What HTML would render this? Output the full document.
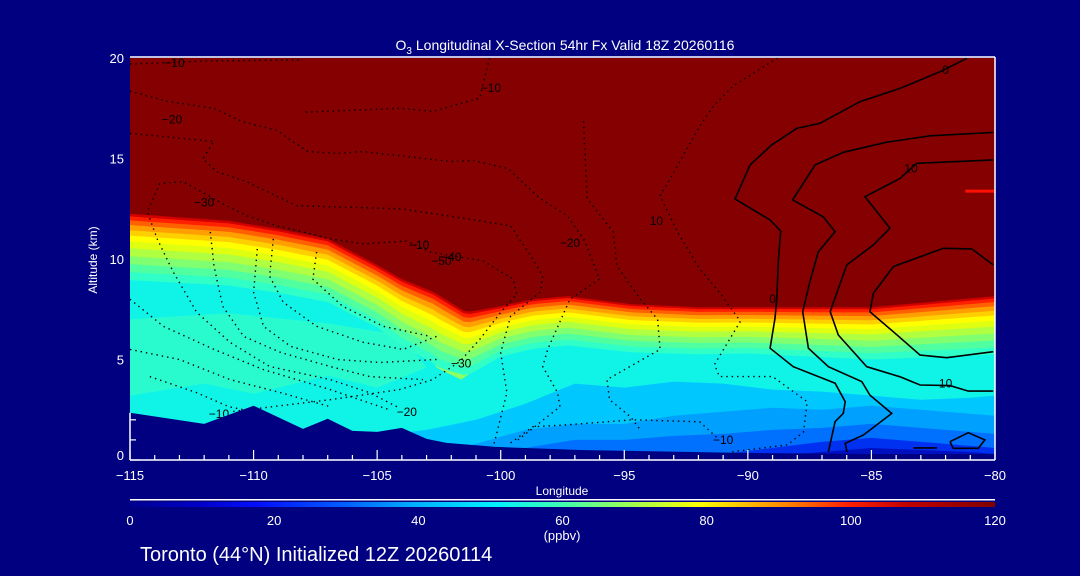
<!DOCTYPE html>
<html><head><meta charset="utf-8">
<style>
html,body{margin:0;padding:0;background:#000080;}
svg{display:block;}
text{font-family:"Liberation Sans",sans-serif;}
</style></head>
<body>
<svg id="chart" width="1080" height="576" viewBox="0 0 1080 576" xmlns="http://www.w3.org/2000/svg">
<defs>
<linearGradient id="cbar" x1="0" x2="1" y1="0" y2="0">
<stop offset="0" stop-color="#000090"/><stop offset="0.08" stop-color="#0000c8"/>
<stop offset="0.15" stop-color="#0010ff"/><stop offset="0.25" stop-color="#0060ff"/>
<stop offset="0.33" stop-color="#00b0ff"/><stop offset="0.42" stop-color="#00f0ff"/>
<stop offset="0.5" stop-color="#40ffb0"/><stop offset="0.58" stop-color="#a0ff50"/>
<stop offset="0.66" stop-color="#ffff00"/><stop offset="0.75" stop-color="#ff9000"/>
<stop offset="0.83" stop-color="#ff2000"/><stop offset="0.9" stop-color="#c00000"/>
<stop offset="1" stop-color="#800000"/>
</linearGradient>
<clipPath id="plotclip"><rect x="130" y="58" width="865" height="402"/></clipPath>
</defs>
<rect width="1080" height="576" fill="#000080"/>
<g id="field" clip-path="url(#plotclip)"></g>
<g id="contours" clip-path="url(#plotclip)"></g>
<g id="terrain"></g>
<g id="axes"></g>
<text x="565" y="50" fill="#fff" font-size="14" text-anchor="middle">O<tspan font-size="10" dy="4">3</tspan><tspan dy="-4"> Longitudinal X-Section 54hr  Fx Valid 18Z 20260116</tspan></text>
<text x="562" y="495" fill="#fff" font-size="12" text-anchor="middle">Longitude</text>
<text transform="translate(97,260) rotate(-90)" fill="#fff" font-size="12" text-anchor="middle">Altitude (km)</text>
<rect x="130" y="499" width="865" height="1.5" fill="#fff"/>
<rect x="130" y="502" width="865" height="5" fill="url(#cbar)"/>
<g id="cbarlabels"></g>
<text x="562" y="540" fill="#fff" font-size="13" text-anchor="middle">(ppbv)</text>
<text x="140" y="561" fill="#fff" font-size="20">Toronto (44°N) Initialized 12Z 20260114</text>
</svg>
<script>
// ---- data ----
const tropLon = [-115,-111,-109,-107,-105,-104,-102.7,-101.4,-100,-98.7,-97.3,-94.7,-92,-85,-80];
const tropAlt = [12.25,11.9,11.5,11.0,9.7,9.0,8.35,7.35,7.65,8.0,8.15,7.75,7.6,7.6,8.15];
const depthLon = [-115,-105,-102.5,-101,-100,-90,-80];
const depthKm = [3.3,3.1,3.6,3.0,2.5,2.3,2.9];
const bandFrac = [1.0,0.88,0.76,0.64,0.52,0.42,0.33,0.25,0.17,0.1,0.04,0.0];
const bandColor = ["#30ffc8","#50ffa0","#80ff70","#b0ff40","#e0ff10","#ffff00","#ffd000","#ffa000","#ff6000","#ff2000","#d00000","#850000"];
const tierLon = [-115,-110,-105,-103,-101,-99,-97,-95,-93,-91,-89,-87,-85,-83,-81,-80];
const tierA = [0,0,1.2,1.5,2.0,2.8,3.8,3.6,3.9,3.8,3.5,3.4,3.2,3.0,3.1,3.2];
const tierB = [0,0,0,0.3,0.8,1.5,1.8,1.8,2.2,2.4,2.6,2.5,2.7,2.5,2.3,2.2];
const tierC = [0,0,0,0,0,0.6,1.0,1.0,1.2,1.3,1.5,1.6,1.8,1.6,1.4,1.3];
const tierD = [0,0,0,0,0,0,0,0,0,0.3,0.6,0.9,1.1,0.9,0.7,0.6];
const tierE = [0,0,0,0,0,0,0,0,0,0,0.2,0.4,0.6,0.5,0.4,0.3];
const tierColor = ["#00c8ff","#00a0ff","#0070ff","#0030f0","#0010c0"];
const tongueOuter = [[-104.0,8.5],[-103.2,6.0],[-102.6,4.6],[-101.6,4.0],[-100.9,4.6],[-100.5,6.2],[-100.2,7.6]];
const tongueInner = [[-103.3,8.0],[-102.7,6.0],[-102.0,5.0],[-101.3,5.2],[-100.9,6.5],[-100.6,7.6]];
const terrLon = [-115,-112,-110,-108,-107,-106,-105,-104,-103,-102.2,-100.2,-96.8,-90,-85,-80];
const terrAlt = [2.35,1.8,2.7,1.55,2.05,1.45,1.4,1.6,1.05,0.85,0.65,0.5,0.35,0.3,0.3];
const solid1 = [[-81.14,19.98],[-82.22,19.32],[-83.84,18.49],[-85.46,17.83],[-87.08,16.75],[-88.02,16.5],[-89.04,15.67],[-89.91,14.68],[-90.52,12.99],[-89.1,11.94],[-88.67,11.39],[-88.77,9.87],[-88.83,8.04],[-88.9,7.05],[-89.1,5.56],[-88.16,4.64],[-86.47,3.82],[-86.06,2.9],[-86.14,2.32],[-86.47,1.91],[-86.74,0.41]];
const solid2 = [[-80.07,16.3],[-82.63,16.13],[-84.38,15.81],[-86.14,15.31],[-87.28,14.68],[-88.19,12.94],[-86.95,12.1],[-86.47,11.36],[-87.15,10.36],[-87.49,8.87],[-87.78,7.38],[-87.55,5.56],[-86.74,4.64],[-85.39,3.9],[-85.06,3.23],[-84.18,2.32],[-85.33,1.24],[-86.06,0.83],[-85.99,0.41]];
const solid3 = [[-80.07,14.93],[-83.17,14.76],[-83.84,14.01],[-85.26,13.1],[-84.25,11.53],[-84.92,10.7],[-86.0,9.7],[-86.67,7.38],[-86.34,6.22],[-85.19,4.64],[-83.84,4.14],[-83.03,3.73],[-81.82,3.7],[-81.08,3.43],[-80.07,3.43]];
const solid4 = [[-80.07,9.7],[-80.94,10.5],[-82.09,10.53],[-84.11,9.62],[-84.92,8.3],[-85.06,7.38],[-84.11,6.38],[-83.03,5.22],[-81.95,5.09],[-80.07,5.39]];
const solid5 = [[-81.82,0.91],[-81.08,1.36],[-80.41,1.0],[-80.68,0.58],[-81.69,0.58],[-81.82,0.91]];
const solid6 = [[-83.3,0.6],[-82.35,0.6]];
const dot1 = [[-115,18.35],[-113.5,17.85],[-111.6,17.5],[-110.5,16.85],[-109.05,16.4],[-108.6,16.0],[-107.8,15.35],[-106.6,15.25],[-105.6,15.35],[-103.1,15.0],[-102.05,14.85],[-101.1,14.9],[-99.7,14.5],[-98.4,13.0],[-97.3,12.15],[-96.6,10.9],[-96.0,9.0],[-97.2,8.0],[-98.1,5.5],[-98.3,4.65],[-97.7,3.35],[-97.6,2.65],[-99.3,1.0]];
const dot2 = [[-115,16.25],[-111.6,15.85],[-112.05,15.0],[-111.5,14.35],[-110.3,13.85],[-108.25,12.65],[-104.05,12.5],[-101.35,12.0],[-99.6,11.65],[-98.7,10.0],[-98.3,9.15],[-98.4,8.35],[-99.6,7.15],[-100.0,5.35],[-99.75,3.35],[-100.3,0.65]];
const dot3 = [[-104.2,2.65],[-105.3,3.35],[-106.9,4.0],[-109.35,4.65],[-110.95,5.85],[-112.3,7.35],[-113.25,9.35],[-113.9,11.0],[-114.3,12.35],[-113.8,13.75],[-112.85,13.85],[-111.25,12.75],[-110.25,12.15],[-109.05,11.65],[-108.0,11.35],[-106.9,11.0],[-105.55,10.75],[-103.8,10.9],[-102.85,10.35],[-100.7,9.9],[-99.5,9.0],[-99.35,8.25],[-100,7.35],[-100.85,6.0],[-101.65,4.9],[-102.75,4.0],[-104.1,3.5],[-106.9,3.0],[-110.95,2.4]];
const dot4 = [[-115,8.0],[-113.65,6.65],[-111.6,5.5],[-109.6,4.5],[-106.9,3.5],[-104.5,2.5]];
const dot5 = [[-115,5.5],[-113,5.0],[-110.95,4.0],[-108.9,3.35],[-106.9,2.65]];
const dot6 = [[-114.2,4.15],[-112.3,3.35],[-111,2.65],[-110,2.4]];
const dot7 = [[-111.75,11.35],[-111.6,9.65],[-111.25,7.65],[-110.4,6.15],[-108.9,5.35],[-106.9,4.65],[-105.3,4.15],[-103.15,4.0]];
const dot8 = [[-109.85,10.5],[-110.0,8.35],[-109.6,6.65],[-108.5,5.65],[-106.6,5.0],[-104.9,4.85],[-102.6,5.0]];
const dot9 = [[-109.2,11.0],[-109.35,9.15],[-108.8,7.85],[-107.45,6.65],[-105.55,5.85],[-103.95,5.5],[-102.6,6.15]];
const dot10 = [[-107.45,10.35],[-107.6,9.0],[-106.4,7.65],[-104.75,6.65],[-102.85,6.15]];
const dot11 = [[-100.45,20],[-100.85,18.0],[-102.75,17.35],[-104.1,17.5],[-108,17.3]];
const dot12 = [[-88.8,20],[-90.6,18.6],[-91.4,17.6],[-91.95,16.6],[-93.3,13.65],[-93.55,13.15],[-92.85,11.35],[-91.95,9.5],[-91.15,8.35],[-90.3,6.9],[-91.35,4.75],[-91.15,4.15],[-89.0,4.15],[-87.6,2.9],[-87.75,1.4],[-88.4,0.75],[-90.7,0.4]];
const dot13 = [[-96.65,16.85],[-96.5,13.0],[-95.45,11.35],[-95.3,9.65],[-94.35,8.0],[-93.65,7.0],[-93.55,5.5],[-95.7,4.0],[-95.6,3.0],[-94.75,2.15],[-94.35,1.5]];
const dot14 = [[-99.6,0.85],[-98.7,1.65],[-97.3,1.75],[-94.65,2.0],[-91.95,1.9],[-91.15,1.0]];
const dot15 = [[-115,19.7],[-112,19.85],[-108,19.9]];
const labelText = ["-10","-20","-30","-10","-20","10","-10","-40","-50","-30","-20","-10","-10","0","0","10","10"];
const labelLon = [-113.2,-113.3,-112.0,-100.4,-97.2,-93.7,-103.3,-102.0,-102.4,-101.6,-103.8,-111.4,-91.0,-89.0,-82.0,-83.4,-82.0];
const labelAlt = [19.75,16.95,12.8,18.5,10.8,11.9,10.7,10.1,9.9,4.8,2.4,2.3,1.0,8.0,19.4,14.5,3.8];
const yTicks = [0,5,10,15,20];
const xTicks = [-115,-110,-105,-100,-95,-90,-85,-80];
const cbarTicks = [0,20,40,60,80,100,120];

// ---- scales ----
const X0=130,X1=995,Y0=460,Y1=58;
const X = lon => X0 + (lon+115)*(X1-X0)/35;
const Y = alt => Y0 - alt*(Y0-Y1)/20;
const CB = v => X0 + v*(X1-X0)/120;
const NS="http://www.w3.org/2000/svg";
function interp(xs,ys,x){
  if(x<=xs[0]) return ys[0];
  for(let i=1;i<xs.length;i++){ if(x<=xs[i]){const t=(x-xs[i-1])/(xs[i]-xs[i-1]);return ys[i-1]+t*(ys[i]-ys[i-1]);} }
  return ys[ys.length-1];
}
function mk(tag,attrs,parent){const e=document.createElementNS(NS,tag);for(const k in attrs)e.setAttribute(k,attrs[k]);parent.appendChild(e);return e;}
const lons=[];for(let l=-115;l<=-80.001;l+=0.25)lons.push(l);lons.push(-80);

const field=document.getElementById('field');
let el=mk('rect',{x:X0,y:Y1,width:X1-X0,height:Y0-Y1,fill:'#10f4e8'},field);


el=mk('polygon',{points:[[-115,3.2],[-112,3.8],[-110,3.3],[-107,4.2],[-105,3.6],[-103,4.6],[-104,6.2],[-107,6.8],[-111,7.3],[-115,7.0]].map(p=>X(p[0])+','+Y(p[1])).join(' '),fill:'#30fcc8',opacity:0.8},field);


const tiers=[tierA,tierB,tierC,tierD,tierE];
tiers.forEach((tier,ti)=>{
  let pts=lons.map(l=>X(l)+','+Y(interp(tierLon,tier,l)));
  pts.push(X(-80)+','+Y(0));pts.push(X(-115)+','+Y(0));
  const p=mk('polygon',{points:pts.join(' '),fill:tierColor[ti]},field);
  
  
});
el=mk('polygon',{points:tongueOuter.map(p=>X(p[0])+','+Y(p[1])).join(' '),fill:'#90ff60'},field);


el=mk('polygon',{points:tongueInner.map(p=>X(p[0])+','+Y(p[1])).join(' '),fill:'#e8ff10'},field);


bandFrac.forEach((f,bi)=>{
  let pts=lons.map(l=>X(l)+','+Y(interp(tropLon,tropAlt,l)-f*interp(depthLon,depthKm,l)));
  pts.push(X(-80)+','+Y(20.5));pts.push(X(-115)+','+Y(20.5));
  const p=mk('polygon',{points:pts.join(' '),fill:bandColor[bi]},field);
  
  
});
el=mk('rect',{x:X(-81.2),y:Y(13.45),width:X(-80)-X(-81.2),height:3,fill:'#ff1000'},field);



// contours
const cg=document.getElementById('contours');
const path=pts=>pts.map((p,i)=>(i?'L':'M')+X(p[0]).toFixed(1)+' '+Y(p[1]).toFixed(1)).join(' ');
[solid1,solid2,solid3,solid4,solid5,solid6].forEach(c=>{
  const p=mk('path',{d:path(c),fill:'none',stroke:'#000','stroke-width':1.6},cg);
  
  
});
[dot1,dot2,dot3,dot4,dot5,dot6,dot7,dot8,dot9,dot10,dot11,dot12,dot13,dot14,dot15].forEach(c=>{
  const p=mk('path',{d:path(c),fill:'none',stroke:'#000','stroke-width':1.4,'stroke-dasharray':'1.4 4'},cg);
  
  
});
labelText.forEach((t,i)=>{
  const tx=mk('text',{x:X(labelLon[i]),y:Y(labelAlt[i])+4,'font-size':12,fill:'#000','text-anchor':'middle'},cg);
  tx.textContent=t.replace('-','\u2212');
  
  
});

// terrain
let tp=terrLon.map((l,i)=>X(l)+','+Y(terrAlt[i]));
tp.push(X(-80)+','+Y0);tp.push(X(-115)+','+Y0);
el=mk('polygon',{points:tp.join(' '),fill:'#000080'},document.getElementById('terrain'));



// axes
const ax=document.getElementById('axes');
el=mk('line',{x1:X0,y1:Y0,x2:X1,y2:Y0,stroke:'#fff','stroke-width':1.5},ax);


el=mk('line',{x1:X0,y1:Y1-1,x2:X1,y2:Y1-1,stroke:'#fff','stroke-width':1.5},ax);


el=mk('line',{x1:X1,y1:Y1-1,x2:X1,y2:Y0,stroke:'#fff','stroke-width':1.5},ax);


el=mk('line',{x1:X0,y1:Y(terrAlt[0]),x2:X0,y2:Y0,stroke:'#fff','stroke-width':1.5},ax);


for(let l=-115;l<=-80;l++){
  const major=(l%5===0);
  const t=mk('line',{x1:X(l),y1:Y0,x2:X(l),y2:Y0-(major?10:5),stroke:'#fff','stroke-width':1.2},ax);
  
  
}
for(let a=0;a<=2;a++){
  const t=mk('line',{x1:X0,y1:Y(a),x2:X0+(a===0?10:6),y2:Y(a),stroke:'#fff','stroke-width':1.2},ax);
  
  
}
xTicks.forEach(v=>{
  const t=mk('text',{x:X(v),y:Y0+20,fill:'#fff','font-size':13,'text-anchor':'middle'},ax);
  t.textContent=(v<0?'\u2212':'')+Math.abs(v);
  
  
});
yTicks.forEach(v=>{
  const t=mk('text',{x:X0-6,y:Y(v)+(v===0?0:5),fill:'#fff','font-size':13,'text-anchor':'end'},ax);
  t.textContent=v;
  
  
});
const cl=document.getElementById('cbarlabels');
cbarTicks.forEach(v=>{
  const t=mk('text',{x:CB(v),y:525,fill:'#fff','font-size':13,'text-anchor':'middle'},cl);
  t.textContent=v;
  
  
});
</script>
</body></html>
